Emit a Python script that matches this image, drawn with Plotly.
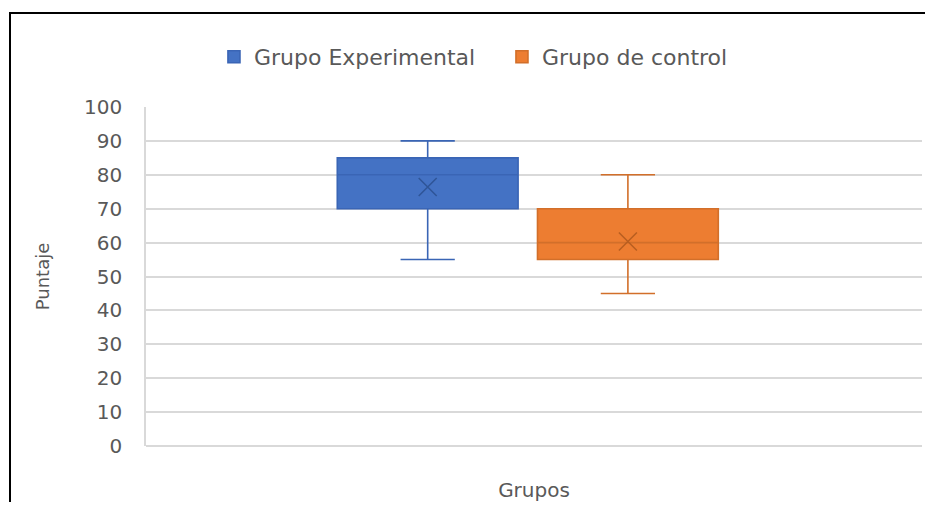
import plotly.graph_objects as go

# ---- data ----
groups = ["Grupo Experimental", "Grupo de control"]
lower_whisker = [55, 45]
q1_values = [70, 55]
medians = [80, 60]
q3_values = [85, 70]
upper_whisker = [90, 80]
means = [76.4, 60.3]
y_ticks = [0, 10, 20, 30, 40, 50, 60, 70, 80, 90, 100]

# ---- style ----
fill_colors = ["#4472C4", "#ED7D31"]
line_colors = ["#3A65B5", "#D26F2A"]
mean_colors = ["#2F5597", "#B85E20"]
text_color = "#595959"
grid_color = "#D9D9D9"
FONT = "DejaVu Sans"

group_center = -0.008
box_offsets = [-0.129, 0.129]
box_width = 0.233

fig = go.Figure()
for i, name in enumerate(groups):
    pos = group_center + box_offsets[i]
    fig.add_trace(go.Box(
        name=name,
        x=[pos],
        q1=[q1_values[i]],
        median=[medians[i]],
        q3=[q3_values[i]],
        lowerfence=[lower_whisker[i]],
        upperfence=[upper_whisker[i]],
        width=box_width,
        whiskerwidth=0.3,
        fillcolor=fill_colors[i],
        line=dict(color=line_colors[i], width=1.6),
        boxpoints=False,
        showlegend=True,
    ))
    fig.add_trace(go.Scatter(
        x=[pos],
        y=[means[i]],
        mode="markers",
        marker=dict(symbol="x-thin-open", size=18,
                    line=dict(color=mean_colors[i], width=1.5),
                    color=mean_colors[i]),
        showlegend=False,
        hoverinfo="skip",
    ))

# The page body has an 8px margin, so the figure is sized to fit inside it.
W, H = 917, 494
L, R, T, B = 138, 3, 99, 56
pw, ph = W - L - R, H - T - B

def px_x(px):
    return (px - L) / pw

def px_y(py):
    return (H - B - py) / ph

fig.update_layout(
    width=W, height=H,
    margin=dict(l=L, r=R, t=T, b=B),
    paper_bgcolor="white",
    plot_bgcolor="white",
    font=dict(family=FONT, color=text_color, size=19),
    legend=dict(
        orientation="h",
        xref="container", yref="container",
        x=0.2246, xanchor="left",
        y=0.9008, yanchor="middle",
        entrywidth=243,
        font=dict(family=FONT, size=22, color=text_color),
        itemclick=False,
    ),
    xaxis=dict(
        range=[-0.5, 0.5],
        showticklabels=False,
        showgrid=False,
        zeroline=False,
        showline=False,
        ticks="",
        title=dict(text="Grupos", standoff=36,
                   font=dict(family=FONT, size=20, color=text_color)),
    ),
    yaxis=dict(
        range=[0, 100],
        tickvals=y_ticks,
        ticktext=[str(v) for v in y_ticks],
        showgrid=True,
        gridcolor=grid_color,
        gridwidth=1.5,
        zeroline=True,
        zerolinecolor=grid_color,
        zerolinewidth=1.5,
        showline=True,
        linecolor=grid_color,
        linewidth=1.5,
        ticks="",
        ticklabelstandoff=18,
        tickfont=dict(family=FONT, size=20, color=text_color),
        title=dict(text="Puntaje", standoff=30,
                   font=dict(family=FONT, size=18, color=text_color)),
    ),
    shapes=[
        dict(type="line", xref="paper", yref="paper",
             x0=px_x(1), x1=px_x(W + 5), y0=px_y(5), y1=px_y(5),
             line=dict(color="black", width=2)),
        dict(type="line", xref="paper", yref="paper",
             x0=px_x(2), x1=px_x(2), y0=px_y(5), y1=px_y(H + 5),
             line=dict(color="black", width=2)),
    ],
)

fig.write_html("out.html")
